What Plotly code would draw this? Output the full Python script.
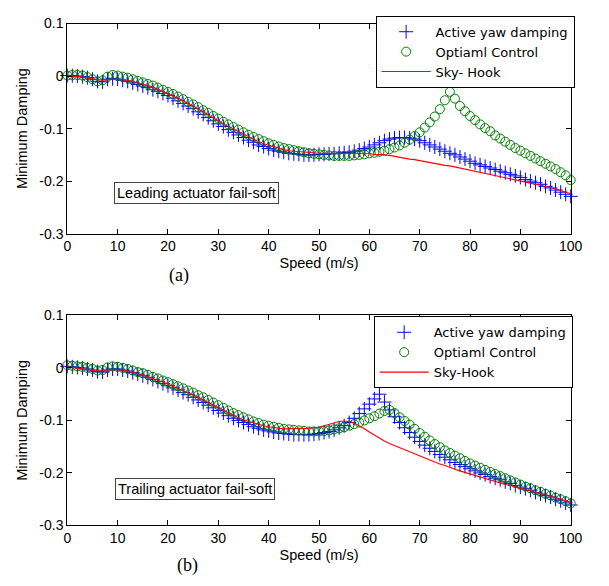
import plotly.graph_objects as go

speed = list(range(0, 101))

# ---- (a) Leading actuator fail-soft ----
sky_a = [0.000, 0.000, -0.001, -0.002, -0.003, -0.005, -0.007, -0.008, -0.007, -0.006,
         -0.006, -0.007, -0.008, -0.010, -0.013, -0.015, -0.018, -0.021, -0.025, -0.029,
         -0.033, -0.037, -0.042, -0.047, -0.052, -0.057, -0.063, -0.068, -0.074, -0.079,
         -0.085, -0.091, -0.096, -0.101, -0.106, -0.111, -0.116, -0.121, -0.125, -0.129,
         -0.132, -0.135, -0.138, -0.140, -0.142, -0.143, -0.144, -0.145, -0.146, -0.146,
         -0.147, -0.147, -0.147, -0.147, -0.147, -0.147, -0.147, -0.147, -0.148, -0.148,
         -0.148, -0.149, -0.149, -0.150, -0.151, -0.153, -0.155, -0.156, -0.158, -0.159,
         -0.161, -0.162, -0.164, -0.166, -0.168, -0.170, -0.171, -0.173, -0.175, -0.177,
         -0.179, -0.181, -0.183, -0.185, -0.187, -0.189, -0.191, -0.193, -0.195, -0.197,
         -0.199, -0.201, -0.203, -0.205, -0.207, -0.210, -0.212, -0.215, -0.218, -0.221,
         -0.224]
ayd_a = [0.001, 0.001, 0.000, -0.001, -0.003, -0.006, -0.010, -0.011, -0.006, -0.005,
         -0.006, -0.008, -0.010, -0.013, -0.016, -0.019, -0.022, -0.026, -0.029, -0.033,
         -0.037, -0.042, -0.047, -0.052, -0.057, -0.062, -0.068, -0.073, -0.079, -0.085,
         -0.091, -0.096, -0.102, -0.107, -0.112, -0.117, -0.122, -0.126, -0.131, -0.134,
         -0.138, -0.141, -0.143, -0.145, -0.147, -0.148, -0.149, -0.150, -0.150, -0.150,
         -0.149, -0.149, -0.148, -0.148, -0.147, -0.146, -0.145, -0.143, -0.141, -0.138,
         -0.135, -0.131, -0.127, -0.123, -0.120, -0.118, -0.117, -0.117, -0.118, -0.120,
         -0.123, -0.127, -0.131, -0.135, -0.139, -0.143, -0.147, -0.150, -0.154, -0.158,
         -0.162, -0.166, -0.169, -0.172, -0.175, -0.178, -0.181, -0.184, -0.187, -0.190,
         -0.193, -0.197, -0.200, -0.203, -0.206, -0.210, -0.213, -0.217, -0.221, -0.225,
         -0.229]
opt_a = [0.001, 0.002, 0.002, 0.001, -0.002, -0.006, -0.010, -0.008, -0.001, 0.002,
         0.001, -0.001, -0.003, -0.006, -0.009, -0.012, -0.015, -0.018, -0.022, -0.026,
         -0.030, -0.034, -0.039, -0.044, -0.049, -0.054, -0.059, -0.065, -0.070, -0.076,
         -0.081, -0.087, -0.092, -0.097, -0.102, -0.107, -0.112, -0.116, -0.120, -0.124,
         -0.128, -0.131, -0.134, -0.137, -0.139, -0.141, -0.143, -0.145, -0.147, -0.148,
         -0.149, -0.150, -0.151, -0.152, -0.152, -0.152, -0.152, -0.151, -0.150, -0.149,
         -0.147, -0.146, -0.144, -0.142, -0.139, -0.136, -0.132, -0.127, -0.121, -0.114,
         -0.107, -0.098, -0.088, -0.077, -0.063, -0.046, -0.030, -0.043, -0.057, -0.067,
         -0.076, -0.084, -0.092, -0.099, -0.105, -0.113, -0.119, -0.125, -0.131, -0.137,
         -0.142, -0.147, -0.152, -0.157, -0.162, -0.167, -0.172, -0.177, -0.183, -0.189,
         -0.198]

# ---- (b) Trailing actuator fail-soft ----
sky_b = [0.002, 0.001, 0.000, -0.001, -0.003, -0.005, -0.006, -0.006, -0.004, -0.003,
         -0.003, -0.004, -0.006, -0.008, -0.011, -0.014, -0.017, -0.020, -0.024, -0.027,
         -0.031, -0.035, -0.039, -0.043, -0.047, -0.052, -0.056, -0.061, -0.066, -0.071,
         -0.076, -0.081, -0.086, -0.090, -0.095, -0.099, -0.102, -0.105, -0.108, -0.110,
         -0.112, -0.114, -0.115, -0.116, -0.116, -0.116, -0.116, -0.116, -0.115, -0.114,
         -0.113, -0.110, -0.107, -0.104, -0.102, -0.101, -0.102, -0.105, -0.110, -0.116,
         -0.122, -0.128, -0.134, -0.139, -0.144, -0.148, -0.152, -0.156, -0.160, -0.164,
         -0.168, -0.172, -0.176, -0.179, -0.183, -0.186, -0.190, -0.193, -0.196, -0.199,
         -0.202, -0.205, -0.208, -0.211, -0.214, -0.216, -0.219, -0.222, -0.224, -0.227,
         -0.229, -0.232, -0.234, -0.237, -0.239, -0.242, -0.244, -0.247, -0.250, -0.253,
         -0.256]
ayd_b = [0.003, 0.002, 0.001, 0.000, -0.002, -0.004, -0.007, -0.008, -0.004, -0.002,
         -0.002, -0.004, -0.006, -0.009, -0.012, -0.015, -0.018, -0.022, -0.026, -0.030,
         -0.034, -0.038, -0.042, -0.047, -0.051, -0.056, -0.061, -0.066, -0.071, -0.076,
         -0.081, -0.086, -0.091, -0.096, -0.100, -0.104, -0.108, -0.112, -0.115, -0.118,
         -0.120, -0.122, -0.124, -0.125, -0.126, -0.127, -0.127, -0.127, -0.127, -0.126,
         -0.125, -0.123, -0.121, -0.118, -0.114, -0.110, -0.104, -0.096, -0.087, -0.078,
         -0.069, -0.059, -0.050, -0.065, -0.080, -0.093, -0.104, -0.114, -0.123, -0.132,
         -0.140, -0.147, -0.153, -0.159, -0.165, -0.170, -0.175, -0.180, -0.184, -0.188,
         -0.192, -0.196, -0.200, -0.203, -0.207, -0.210, -0.213, -0.217, -0.220, -0.224,
         -0.227, -0.230, -0.233, -0.237, -0.240, -0.243, -0.246, -0.250, -0.253, -0.257,
         -0.261]
opt_b = [0.005, 0.004, 0.003, 0.002, 0.000, -0.002, -0.005, -0.004, 0.001, 0.003,
         0.002, 0.000, -0.002, -0.005, -0.008, -0.010, -0.013, -0.017, -0.020, -0.024,
         -0.027, -0.031, -0.035, -0.039, -0.043, -0.047, -0.052, -0.056, -0.061, -0.066,
         -0.071, -0.076, -0.081, -0.086, -0.090, -0.094, -0.098, -0.102, -0.105, -0.108,
         -0.110, -0.112, -0.114, -0.116, -0.117, -0.118, -0.119, -0.120, -0.121, -0.121,
         -0.121, -0.120, -0.119, -0.117, -0.115, -0.113, -0.110, -0.107, -0.104, -0.100,
         -0.096, -0.092, -0.087, -0.082, -0.080, -0.086, -0.094, -0.101, -0.108, -0.116,
         -0.124, -0.131, -0.138, -0.145, -0.151, -0.157, -0.162, -0.167, -0.172, -0.177,
         -0.182, -0.186, -0.190, -0.194, -0.198, -0.202, -0.206, -0.210, -0.214, -0.218,
         -0.222, -0.226, -0.229, -0.233, -0.236, -0.240, -0.243, -0.247, -0.250, -0.254,
         -0.258]

x_ticks = [0, 10, 20, 30, 40, 50, 60, 70, 80, 90, 100]
y_ticks = [-0.3, -0.2, -0.1, 0, 0.1]
y_ticktext = ["-0.3", "-0.2", "-0.1", "0", "0.1"]

names_a = ["Active yaw damping", "Optiaml Control", "Sky- Hook"]
names_b = ["Active yaw damping", "Optiaml Control", "Sky-Hook"]
panel_text = ["Leading actuator fail-soft", "Trailing actuator fail-soft"]
panel_labels = ["(a)", "(b)"]

W, H = 609, 586
FONT = "Liberation Sans, Arial, sans-serif"
LEGFONT = "DejaVu Sans, Liberation Sans, sans-serif"
BLUE, GREEN, RED = "#0000ff", "#008000", "#ff0000"

fig = go.Figure()

def add_panel(xa, ya, leg, ayd, opt, sky, names):
    fig.add_trace(go.Scatter(x=speed, y=ayd, mode="markers", name=names[0],
                             xaxis=xa, yaxis=ya, legend=leg, cliponaxis=False,
                             marker=dict(symbol="cross-thin-open", size=10, color=BLUE,
                                         line=dict(width=1, color=BLUE))))
    fig.add_trace(go.Scatter(x=speed, y=opt, mode="markers", name=names[1],
                             xaxis=xa, yaxis=ya, legend=leg, cliponaxis=False,
                             marker=dict(symbol="circle-open", size=9, color=GREEN,
                                         line=dict(width=1, color=GREEN))))
    fig.add_trace(go.Scatter(x=speed, y=sky, mode="lines", name=names[2],
                             xaxis=xa, yaxis=ya, legend=leg, cliponaxis=False,
                             line=dict(color=RED, width=1.1)))

add_panel("x", "y", "legend", ayd_a, opt_a, sky_a, names_a)
add_panel("x2", "y2", "legend2", ayd_b, opt_b, sky_b, names_b)

xdom = [65 / W, 582 / W]
dom_a = [1 - 232 / H, 1 - 16 / H]
dom_b = [1 - 532 / H, 1 - 316 / H]

axis_common = dict(showline=True, linecolor="black", linewidth=1, mirror="ticks",
                   ticks="inside", ticklen=5, tickcolor="black", showgrid=False,
                   zeroline=False, tickfont=dict(family=FONT, size=14, color="black"))

xax = dict(axis_common, range=[0, 100], tickvals=x_ticks,
           title=dict(text="Speed (m/s)", font=dict(family=FONT, size=14.5, color="black"),
                      standoff=4))
yax = dict(axis_common, range=[-0.3, 0.1], tickvals=y_ticks, ticktext=y_ticktext,
           title=dict(text="Minimum Damping", font=dict(family=FONT, size=14.5, color="black"),
                      standoff=8))

legend_common = dict(bgcolor="white", bordercolor="black", borderwidth=1,
                     font=dict(family=LEGFONT, size=13, color="black"),
                     xanchor="right", yanchor="top", itemwidth=49, tracegroupgap=0)

fig.update_layout(
    width=W, height=H, margin=dict(l=0, r=0, t=0, b=0),
    paper_bgcolor="white", plot_bgcolor="white",
    xaxis=dict(xax, domain=xdom, anchor="y"),
    yaxis=dict(yax, domain=dom_a, anchor="x"),
    xaxis2=dict(xax, domain=xdom, anchor="y2"),
    yaxis2=dict(yax, domain=dom_b, anchor="x2"),
    legend=dict(legend_common, x=586 / W, y=1 - 8 / H),
    legend2=dict(legend_common, x=584 / W, y=1 - 317 / H),
    showlegend=True,
)

# panel captions inside boxes
box_centers = [(197.5, 190), (196, 494.5)]
for (cx, cy), txt in zip(box_centers, panel_text):
    fig.add_annotation(x=cx / W, y=1 - cy / H, xref="paper", yref="paper",
                       text=txt, showarrow=False, xanchor="center", yanchor="middle",
                       font=dict(family=FONT, size=14.5, color="black"),
                       bgcolor="white", bordercolor="#444444", borderwidth=1, borderpad=2)

label_pos = [(180, 275), (188, 573)]
for (cx, cy), txt in zip(label_pos, panel_labels):
    fig.add_annotation(x=cx / W, y=1 - cy / H, xref="paper", yref="paper",
                       text=txt, showarrow=False, xanchor="center", yanchor="middle",
                       font=dict(family="Liberation Serif, Times New Roman, serif",
                                 size=18, color="black"))

fig.write_html("out.html")
